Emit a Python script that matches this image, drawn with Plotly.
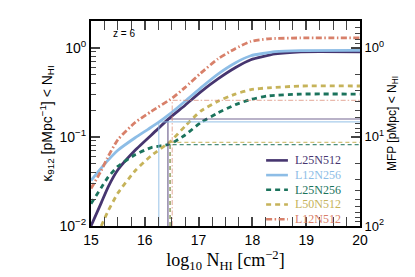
import plotly.graph_objects as go

# ---------------- data ----------------
names = ["L25N512", "L12N256", "L25N256", "L50N512", "L12N512"]
colors = ["#46356f", "#8dbde6", "#1b735c", "#c6b35a", "#d8806a"]

nhi_L25N512 = [15.0, 15.19, 15.32, 15.5, 15.82, 16.21, 16.43, 16.75, 17.04, 17.36, 17.68, 17.97, 18.42, 18.9, 20.0]
kap_L25N512 = [0.0100, 0.0182, 0.0275, 0.0427, 0.0708, 0.1175, 0.157, 0.2265, 0.320, 0.447, 0.596, 0.733, 0.851, 0.902, 0.902]

nhi_L12N256 = [15.0, 15.19, 15.32, 15.5, 15.82, 16.06, 16.26, 16.43, 16.75, 17.04, 17.36, 17.68, 17.97, 18.42, 18.9, 20.0]
kap_L12N256 = [0.0324, 0.0447, 0.0550, 0.0708, 0.0977, 0.1216, 0.146, 0.174, 0.251, 0.355, 0.507, 0.676, 0.813, 0.902, 0.929, 0.933]

nhi_L25N256 = [15.0, 15.19, 15.32, 15.5, 15.82, 16.12, 16.47, 16.75, 17.04, 17.36, 17.68, 17.97, 18.29, 18.9, 20.0]
kap_L25N256 = [0.0178, 0.0269, 0.0355, 0.0468, 0.0631, 0.0759, 0.0832, 0.105, 0.145, 0.186, 0.229, 0.263, 0.288, 0.302, 0.302]

nhi_L50N512 = [15.19, 15.32, 15.5, 15.82, 16.12, 16.47, 16.75, 17.04, 17.36, 17.68, 17.97, 18.29, 18.9, 20.0]
kap_L50N512 = [0.0100, 0.0148, 0.0234, 0.0417, 0.0617, 0.0881, 0.132, 0.195, 0.251, 0.302, 0.339, 0.355, 0.372, 0.372]

nhi_L12N512 = [15.0, 15.19, 15.3, 15.5, 15.82, 16.12, 16.51, 16.75, 17.04, 17.36, 17.68, 17.97, 18.29, 18.9, 20.0]
kap_L12N512 = [0.0263, 0.0417, 0.0575, 0.0933, 0.145, 0.193, 0.272, 0.359, 0.519, 0.750, 0.977, 1.175, 1.259, 1.288, 1.288]

# mean free path markers (column density where reached, MFP in pMpc)
mfp_nhi = [16.43, 16.26, 16.47, 16.47, 16.51]
mfp_val = [6.3, 6.8, 12.2, 11.5, 3.9]

curves_x = [nhi_L25N512, nhi_L12N256, nhi_L25N256, nhi_L50N512, nhi_L12N512]
curves_y = [kap_L25N512, kap_L12N256, kap_L25N256, kap_L50N512, kap_L12N512]

x_ticks = [15, 16, 17, 18, 19, 20]
x_minor = [15 + 0.25 * i for i in range(21) if i % 4 != 0]
k_ticks = [0.01, 0.1, 1.0]
k_ticktext = ["10<sup>−2</sup>", "10<sup>−1</sup>", "10<sup>0</sup>"]
k_minor = [m * d for d in (0.01, 0.1) for m in range(2, 10)] + [2.0]
m_ticks = [1, 10, 100]
m_ticktext = ["10<sup>0</sup>", "10<sup>1</sup>", "10<sup>2</sup>"]
m_minor = [0.6, 0.7, 0.8, 0.9] + [m * d for d in (1, 10) for m in range(2, 10)]

# ---------------- styles ----------------
thick_dash = ["solid", "solid", "5px,4px", "5px,4px", "6px,2.5px,1.5px,2.5px"]
thin_dash = ["solid", "solid", "4px,3px", "4px,3px", "5px,2px,1.5px,2px"]
thin_alpha = [0.75, 0.75, 0.8, 0.8, 0.55]

fig = go.Figure()

for i in range(5):
    fig.add_trace(go.Scatter(
        x=curves_x[i], y=curves_y[i], mode="lines", name=names[i],
        line=dict(color=colors[i], width=2.8, dash=thick_dash[i], shape="spline", smoothing=0.5),
        showlegend=False, yaxis="y"))

for i in range(5):
    fig.add_trace(go.Scatter(
        x=[mfp_nhi[i], mfp_nhi[i], 20.0], y=[100.0, mfp_val[i], mfp_val[i]], mode="lines",
        line=dict(color=colors[i], width=1.2, dash=thin_dash[i]), opacity=thin_alpha[i],
        showlegend=False, yaxis="y2"))

# legend (drawn manually to match compact spacing)
shapes = []
annotations = []
leg_y0 = 0.320
leg_dy = 0.0717
for i in range(5):
    yy = leg_y0 - i * leg_dy
    shapes.append(dict(type="line", xref="paper", yref="paper", x0=0.651, x1=0.732, y0=yy, y1=yy,
                       line=dict(color=colors[i], width=2.6, dash=thick_dash[i])))
    annotations.append(dict(xref="paper", yref="paper", x=0.752, y=yy, text=names[i], showarrow=False,
                            xanchor="left", yanchor="middle",
                            font=dict(family="Liberation Serif", size=12, color=colors[i])))

annotations.append(dict(xref="paper", yref="paper", x=0.074, y=0.941, text="z = 6", showarrow=False,
                        xanchor="left", yanchor="middle",
                        font=dict(family="Liberation Sans", size=10, color="black")))

fig.update_layout(
    width=415, height=277,
    margin=dict(l=83, r=63, t=13, b=59),
    paper_bgcolor="white", plot_bgcolor="white",
    showlegend=False,
    font=dict(family="Liberation Sans", size=14, color="black"),
    shapes=shapes, annotations=annotations,
    xaxis=dict(
        range=[15, 20], tickvals=x_ticks, ticks="inside", ticklen=9, tickwidth=1.5,
        showline=True, linewidth=2, linecolor="black", mirror="allticks", showgrid=False, zeroline=False,
        minor=dict(tickvals=x_minor, ticks="inside", ticklen=5, tickwidth=1.2, showgrid=False),
        title=dict(text="log<sub>10</sub> N<sub>HI</sub> [cm<sup>−2</sup>]",
                   font=dict(family="Liberation Serif", size=18), standoff=3),
        tickfont=dict(size=14),
    ),
    yaxis=dict(
        type="log", range=[-2, 0.3], tickvals=k_ticks, ticktext=k_ticktext,
        ticks="inside", ticklen=9, tickwidth=1.5,
        showline=True, linewidth=2, linecolor="black", mirror=False, showgrid=False, zeroline=False,
        minor=dict(tickvals=k_minor, ticks="inside", ticklen=5, tickwidth=1.2, showgrid=False),
        title=dict(text="κ<sub>912</sub> [pMpc<sup>−1</sup>] &lt; N<sub>HI</sub>", font=dict(size=14), standoff=4),
        tickfont=dict(size=14),
    ),
    yaxis2=dict(
        type="log", range=[2, -0.3], overlaying="y", side="right", anchor="x",
        tickvals=m_ticks, ticktext=m_ticktext,
        ticks="inside", ticklen=9, tickwidth=1.5,
        showline=True, linewidth=2, linecolor="black", showgrid=False, zeroline=False,
        minor=dict(tickvals=m_minor, ticks="inside", ticklen=5, tickwidth=1.2, showgrid=False),
        title=dict(text="MFP [pMpc] &lt; N<sub>HI</sub>", font=dict(size=12), standoff=4),
        tickfont=dict(size=13),
    ),
)

fig.write_html("out.html")
